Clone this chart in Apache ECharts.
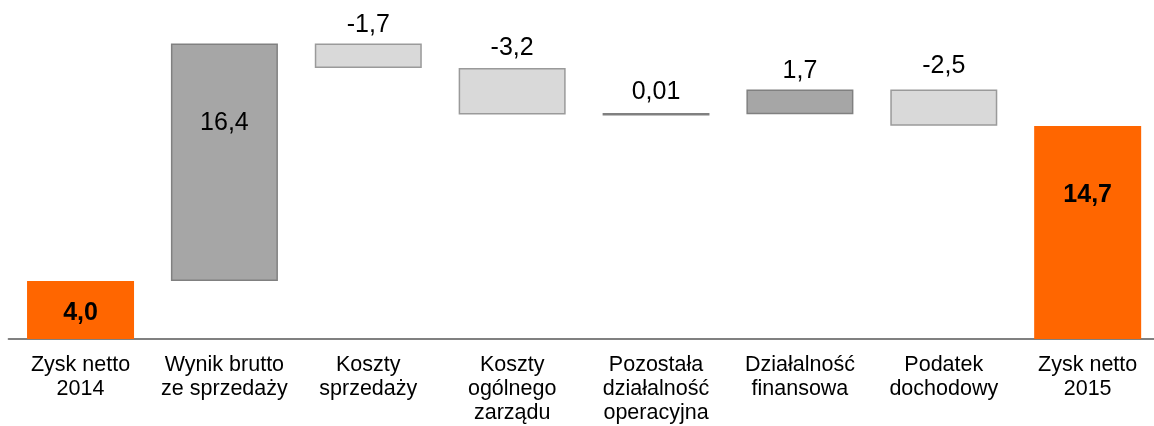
<!DOCTYPE html>
<html>
<head>
<meta charset="utf-8">
<script src="https://cdn.jsdelivr.net/npm/echarts@6/dist/echarts.min.js"></script>
<style>
html,body{margin:0;padding:0;background:#fff;}
#chart{width:1154px;height:426px;}
</style>
</head>
<body>
<div id="chart"></div>
<script>
// ---- data ----
const categories = [
  "Zysk netto\n2014",
  "Wynik brutto\nze sprzedaży",
  "Koszty\nsprzedaży",
  "Koszty\nogólnego\nzarządu",
  "Pozostała\ndziałalność\noperacyjna",
  "Działalność\nfinansowa",
  "Podatek\ndochodowy",
  "Zysk netto\n2015"
];
const changes = [4.0, 16.4, -1.7, -3.2, 0.01, 1.7, -2.5, 14.7];
const isTotal = [true, false, false, false, false, false, false, true];
const valueLabels = ["4,0", "16,4", "-1,7", "-3,2", "0,01", "1,7", "-2,5", "14,7"];

// ---- styling (not data) ----
const ORANGE = "#FF6600";
const DARK = "#A6A6A6";
const DARK_BORDER = "#808080";
const LIGHT = "#D9D9D9";
const LIGHT_BORDER = "#9A9A9A";
// label placement per bar (style only)
const labelStyle = [
  {position: "inside", fontWeight: "bold", offset: [0, 3]},
  {position: "insideTop", distance: 67},
  {position: "top", distance: 6},
  {position: "top", distance: 7},
  {position: "top", distance: 8},
  {position: "top", distance: 6},
  {position: "top", distance: 11},
  {position: "insideTop", distance: 57, fontWeight: "bold"}
];

// ---- build waterfall ----
const base = [];
const height = [];
let cum = 0;
changes.forEach((v, i) => {
  if (isTotal[i]) {
    base.push(0);
    height.push(v);
    cum = v;
  } else if (v >= 0) {
    base.push(cum);
    height.push(v);
    cum += v;
  } else {
    base.push(cum + v);
    height.push(-v);
    cum += v;
  }
});

const visible = height.map((h, i) => {
  let color, border, bw;
  if (isTotal[i]) { color = ORANGE; border = ORANGE; bw = 0; }
  else if (changes[i] >= 0) { color = DARK; border = DARK_BORDER; bw = 1.5; }
  else { color = LIGHT; border = LIGHT_BORDER; bw = 1.5; }
  if (!isTotal[i] && Math.abs(changes[i]) < 0.1) { bw = 2.6; }
  const ls = labelStyle[i];
  return {
    value: h,
    itemStyle: {color: color, borderColor: border, borderWidth: bw},
    label: {
      show: true,
      formatter: valueLabels[i],
      position: ls.position,
      distance: ls.distance || 5,
      offset: ls.offset || [0, 0],
      fontWeight: ls.fontWeight || "normal",
      fontSize: 25,
      color: "#000",
      fontFamily: "Liberation Sans, Arial, sans-serif"
    }
  };
});

const chart = echarts.init(document.getElementById("chart"), null, {renderer: "canvas"});
chart.setOption({
  animation: false,
  backgroundColor: "#fff",
  grid: {left: 8.6, top: 5.7, width: 1151, bottom: 87, containLabel: false, outerBoundsMode: "none"},
  xAxis: {
    type: "category",
    data: categories,
    axisLine: {show: true, lineStyle: {color: "#808080", width: 2}},
    axisTick: {show: false},
    axisLabel: {
      interval: 0,
      margin: 14,
      fontSize: 21.5,
      lineHeight: 24,
      color: "#000",
      fontFamily: "Liberation Sans, Arial, sans-serif"
    }
  },
  yAxis: {
    type: "value",
    min: 0,
    max: 23,
    show: false,
    splitLine: {show: false}
  },
  series: [
    {
      type: "bar",
      stack: "wf",
      barWidth: 107,
      data: base,
      itemStyle: {color: "transparent", borderColor: "transparent"},
      emphasis: {disabled: true},
      silent: true
    },
    {
      type: "bar",
      stack: "wf",
      barWidth: 107,
      data: visible,
      z: 3
    }
  ]
});
</script>
</body>
</html>
